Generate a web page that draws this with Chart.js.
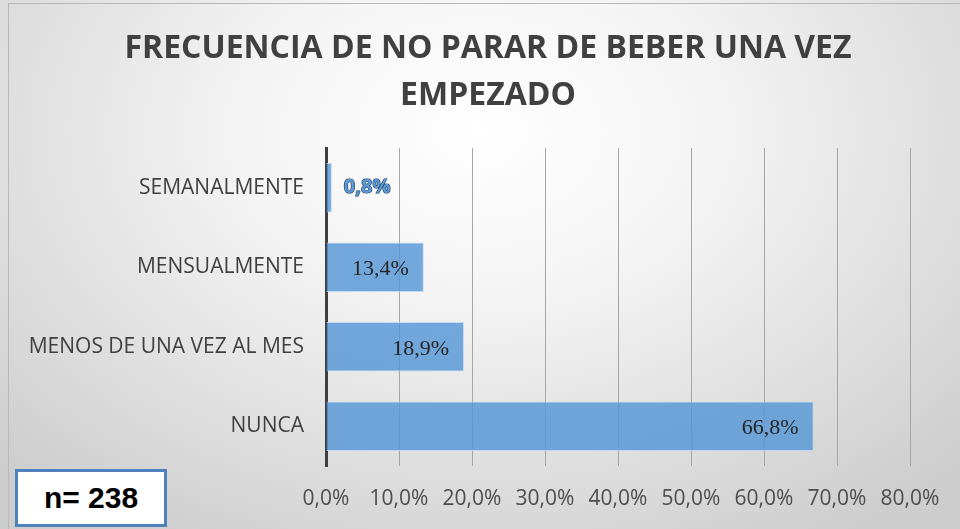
<!DOCTYPE html>
<html>
<head>
<meta charset="utf-8">
<script src="https://cdn.jsdelivr.net/npm/chart.js@4/dist/chart.umd.min.js"></script>
<style>
  html, body { margin: 0; padding: 0; }
  body {
    width: 960px; height: 529px; overflow: hidden; position: relative;
    background: radial-gradient(ellipse 70% 90% at 50% 25%, #ffffff 0%, #f4f4f4 35%, #dcdcdc 75%, #cdcdcd 100%);
  }
  #frame { position: absolute; left: 8px; top: 3px; width: 970px; height: 540px; border: 1px solid #b8b8b8; }
  canvas { position: absolute; left: 0; top: 0; display: block; }
  #nbox {
    position: absolute; left: 15px; top: 469px; width: 146px; height: 52px;
    border: 3px solid #4f81bd; background: #fff;
    font: bold 30px "Liberation Sans", Arial, sans-serif; color: #000;
    text-align: center; line-height: 52px;
  }
</style>
</head>
<body>
<div id="frame"></div>
<canvas id="chart" width="960" height="529"></canvas>
<div id="nbox">n= 238</div>
<script>
// datos
var categorias = ["SEMANALMENTE", "MENSUALMENTE", "MENOS DE UNA VEZ AL MES", "NUNCA"];
var porcentajes = [0.8, 13.4, 18.9, 66.8];
var tituloLineas = ["FRECUENCIA DE NO PARAR DE BEBER UNA VEZ", "EMPEZADO"];

function fmt(v, dec) {
	return v.toFixed(dec).replace(".", ",") + "%";
}

// titulo dibujado a mano (centrado algo a la derecha, como el original)
var titulo = {
	id: "titulo",
	afterDraw: function(chart) {
		var ctx = chart.ctx;
		ctx.save();
		ctx.font = "bold 32px 'Open Sans'";
		ctx.fillStyle = "#404040";
		ctx.textAlign = "center";
		ctx.textBaseline = "middle";
		ctx.fillText(tituloLineas[0], 488, 49);
		ctx.fillText(tituloLineas[1], 488, 96);
		ctx.restore();
	}
};

// etiquetas de valor al final de cada barra
var etiquetas = {
	id: "etiquetas",
	afterDatasetsDraw: function(chart) {
		var ctx = chart.ctx;
		var meta = chart.getDatasetMeta(0);
		ctx.save();
		ctx.textBaseline = "middle";
		meta.data.forEach(function(bar, i) {
			var v = porcentajes[i];
			var txt = fmt(v, 1);
			if (v < 5) {
				ctx.font = "bold 20px 'Open Sans'";
				ctx.textAlign = "left";
				ctx.lineWidth = 1.2;
				ctx.strokeStyle = "#1f3a60";
				ctx.fillStyle = "#5b9bd5";
				ctx.strokeText(txt, bar.x + 12, bar.y);
				ctx.fillText(txt, bar.x + 12, bar.y);
			} else {
				ctx.font = "22px 'Liberation Serif'";
				ctx.textAlign = "right";
				ctx.fillStyle = "#262626";
				ctx.fillText(txt, bar.x - 15, bar.y + 2);
			}
		});
		ctx.restore();
	}
};

var ctx = document.getElementById("chart").getContext("2d");
var chart = new Chart(ctx, {
	type: "bar",
	data: {
		labels: categorias,
		datasets: [{
			data: porcentajes,
			backgroundColor: "rgba(84,150,212,0.82)",
			borderColor: "rgba(190,215,240,0.9)",
			borderWidth: 1,
			categoryPercentage: 1,
			barPercentage: 0.62
		}]
	},
	options: {
		indexAxis: "y",
		responsive: false,
		animation: false,
		layout: { padding: { left: 0, right: 50, top: 148, bottom: 0 } },
		plugins: {
			legend: { display: false },
			tooltip: { enabled: false },
			title: { display: false }
		},
		scales: {
			x: {
				min: 0,
				max: 80,
				ticks: {
					stepSize: 10,
					color: "#4d4d4d",
					font: { family: "'Open Sans'", size: 21 },
					padding: 20,
					callback: function(v) { return fmt(v, 1); }
				},
				grid: { color: "#a6a6a6", lineWidth: 1, drawTicks: false },
				border: { display: false },
				afterFit: function(s) { s.height = 63; }
			},
			y: {
				ticks: {
					color: "#404040",
					font: { family: "'Open Sans'", size: 21 },
					padding: 22
				},
				grid: { display: false, drawTicks: false },
				border: { display: true, color: "#3f3f3f", width: 3 },
				afterFit: function(s) { s.width = 326; }
			}
		}
	},
	plugins: [etiquetas, titulo]
});
</script>
</body>
</html>
